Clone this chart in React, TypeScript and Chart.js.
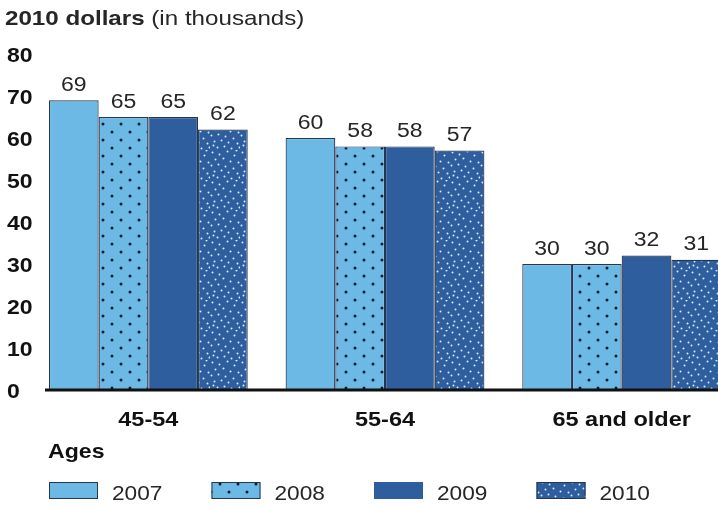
import React, { useEffect, useRef } from 'react';
import { Chart, registerables } from 'chart.js';

Chart.register(...registerables);

// ---- data ----
const categories = ['45-54', '55-64', '65 and older'];
const seriesNames = ['2007', '2008', '2009', '2010'];
const values2007 = [69, 60, 30];
const values2008 = [65, 58, 30];
const values2009 = [65, 58, 32];
const values2010 = [62, 57, 31];
const yTickValues = [0, 10, 20, 30, 40, 50, 60, 70, 80];
const titleBold = '2010 dollars';
const titleNormal = '(in thousands)';
const xAxisTitle = 'Ages';

// ---- style ----
const LIGHT = '#6db9e5';
const DARK = '#2e5e9e';
const BORDER = '#243650';
const TEXT = '#262626';
const FONT = '"Liberation Sans", Arial, Helvetica, sans-serif';
const SX = 1.15;
const CANVAS_W = 760;
const CANVAS_H = 506;

// fixed dot layout inside the 2010 pattern tile (decorative texture)
const speckle: [number, number][] = [
  [2, 2], [9, 4], [17, 1], [24, 5], [28, 12], [5, 9], [13, 8], [20, 11],
  [1, 15], [8, 14], [15, 16], [23, 18], [27, 23], [4, 21], [11, 20], [18, 22],
  [7, 27], [14, 26], [21, 28], [26, 0], [29, 27], [3, 25],
];

function makeDotPattern(): CanvasPattern | string {
  const c = document.createElement('canvas');
  c.width = 18;
  c.height = 16;
  const g = c.getContext('2d');
  if (!g) return LIGHT;
  g.fillStyle = LIGHT;
  g.fillRect(0, 0, 18, 16);
  g.fillStyle = '#0d1a2e';
  [[4, 4], [13, 12]].forEach(([x, y]) => {
    g.beginPath();
    g.arc(x, y, 1.5, 0, Math.PI * 2);
    g.fill();
  });
  return g.createPattern(c, 'repeat') || LIGHT;
}

function makeSpecklePattern(): CanvasPattern | string {
  const c = document.createElement('canvas');
  c.width = 30;
  c.height = 30;
  const g = c.getContext('2d');
  if (!g) return DARK;
  g.fillStyle = DARK;
  g.fillRect(0, 0, 30, 30);
  g.fillStyle = '#d8ecfa';
  speckle.forEach(([x, y]) => {
    g.beginPath();
    g.arc(x + 0.5, y + 0.5, 1.0, 0, Math.PI * 2);
    g.fill();
  });
  return g.createPattern(c, 'repeat') || DARK;
}

function drawStretched(
  ctx: CanvasRenderingContext2D,
  text: string,
  x: number,
  y: number,
  font: string,
  align: 'left' | 'center' = 'left',
  sx = SX
): number {
  ctx.save();
  ctx.font = font;
  ctx.textBaseline = 'alphabetic';
  ctx.textAlign = 'left';
  const w = ctx.measureText(text).width * sx;
  const left = align === 'center' ? x - w / 2 : x;
  ctx.translate(left, y);
  ctx.scale(sx, 1);
  ctx.fillText(text, 0, 0);
  ctx.restore();
  return w;
}

export default function App() {
  const ref = useRef<HTMLCanvasElement | null>(null);

  useEffect(() => {
    const canvas = ref.current;
    if (!canvas) return;
    const dots = makeDotPattern();
    const speck = makeSpecklePattern();
    const fills = [LIGHT, dots, DARK, speck];
    const allValues = [values2007, values2008, values2009, values2010];

    const overlay = {
      id: 'overlay',
      afterDatasetsDraw(chart: any) {
        const ctx: CanvasRenderingContext2D = chart.ctx;
        const y = chart.scales.y;
        const x = chart.scales.x;
        ctx.save();
        ctx.fillStyle = TEXT;
        // title
        const wb = drawStretched(ctx, titleBold, 5, 25, `bold 21px ${FONT}`);
        ctx.font = `21px ${FONT}`;
        const sp = ctx.measureText(' ').width * SX;
        drawStretched(ctx, titleNormal, 5 + wb + sp, 25, `21px ${FONT}`);
        // y tick labels
        ctx.fillStyle = '#111';
        yTickValues.forEach((v) => {
          drawStretched(ctx, String(v), 7, y.getPixelForValue(v) + 7.5, `bold 20px ${FONT}`);
        });
        // category labels
        categories.forEach((c, i) => {
          drawStretched(ctx, c, x.getPixelForValue(i), 426, `bold 21px ${FONT}`, 'center', 1.12);
        });
        // axis title
        drawStretched(ctx, xAxisTitle, 48, 458, `bold 21px ${FONT}`, 'left', 1.1);
        // value labels
        ctx.fillStyle = TEXT;
        chart.data.datasets.forEach((ds: any, di: number) => {
          const meta = chart.getDatasetMeta(di);
          meta.data.forEach((bar: any, i: number) => {
            drawStretched(ctx, String(allValues[di][i]), bar.x, bar.y - 9.5, `20px ${FONT}`, 'center', 1.15);
          });
        });
        // baseline
        const y0 = y.getPixelForValue(0);
        ctx.strokeStyle = '#111';
        ctx.lineWidth = 3;
        ctx.beginPath();
        ctx.moveTo(45, y0);
        ctx.lineTo(CANVAS_W, y0);
        ctx.stroke();
        // legend
        seriesNames.forEach((name, i) => {
          const bx = 49 + i * 162.5;
          ctx.fillStyle = fills[i] as any;
          ctx.fillRect(bx, 482, 49, 17);
          ctx.strokeStyle = i === 2 ? DARK : BORDER;
          ctx.lineWidth = 1;
          ctx.strokeRect(bx + 0.5, 482.5, 48, 16);
          ctx.fillStyle = TEXT;
          drawStretched(ctx, name, bx + 63, 500, `21px ${FONT}`, 'left', 1.08);
        });
        ctx.restore();
      },
    };

    const chart = new Chart(canvas, {
      type: 'bar',
      data: {
        labels: categories,
        datasets: seriesNames.map((name, i) => ({
          label: name,
          data: allValues[i],
          backgroundColor: fills[i] as any,
          borderColor: BORDER,
          borderWidth: 1.2,
          categoryPercentage: 0.84,
          barPercentage: 1,
        })),
      },
      options: {
        responsive: false,
        devicePixelRatio: 1,
        animation: false,
        layout: { padding: { left: 30, right: CANVAS_W - 740, top: 54, bottom: CANVAS_H - 390 } },
        plugins: { legend: { display: false }, tooltip: { enabled: false }, title: { display: false } },
        scales: {
          x: { display: false, offset: true },
          y: { display: false, min: 0, max: 80, ticks: { stepSize: 10 } },
        },
      },
      plugins: [overlay],
    });
    return () => chart.destroy();
  }, []);

  return (
    <div style={{ position: 'fixed', left: 0, top: 0, width: 718, height: 506, overflow: 'hidden', background: '#fff' }}>
      <canvas ref={ref} width={CANVAS_W} height={CANVAS_H} style={{ display: 'block', width: CANVAS_W, height: CANVAS_H }} />
    </div>
  );
}
